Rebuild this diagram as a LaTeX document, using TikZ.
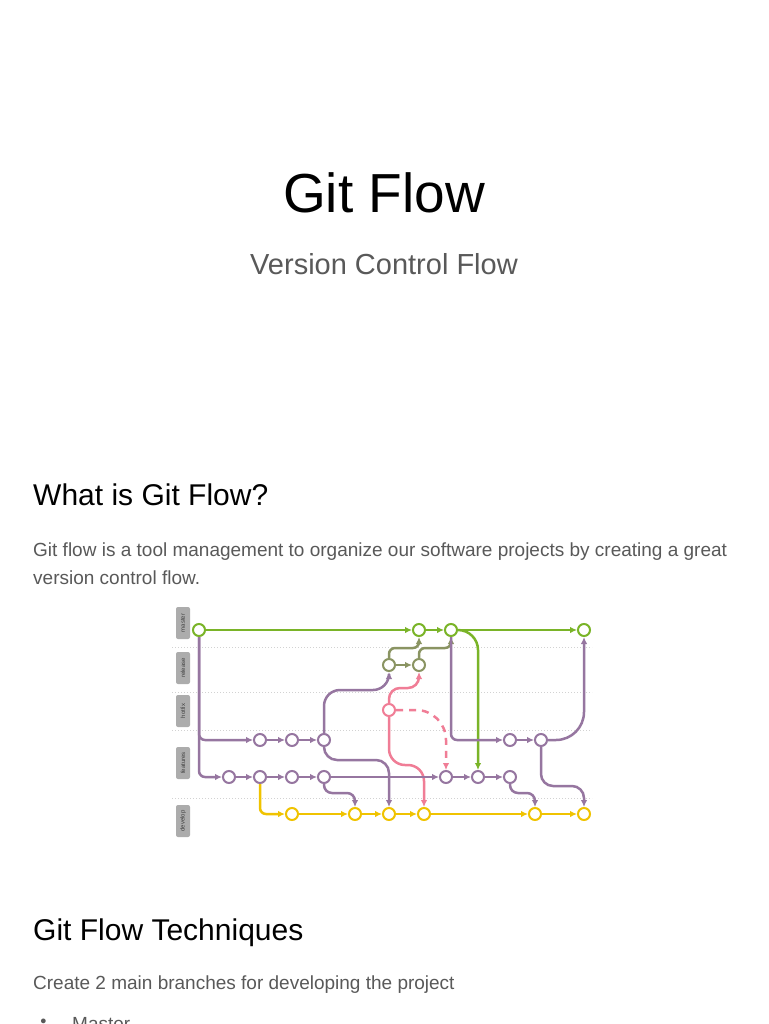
\documentclass[tikz,border=0pt]{standalone}
\usepackage{fontspec}
\setmainfont{Liberation Sans}
\usetikzlibrary{arrows.meta}
\definecolor{masterc}{RGB}{122,180,40}
\definecolor{releasec}{RGB}{138,148,98}
\definecolor{featurec}{RGB}{150,118,160}
\definecolor{hotfixc}{RGB}{240,125,150}
\definecolor{developc}{RGB}{240,195,0}
\definecolor{textgray}{RGB}{89,89,89}

\begin{document}
\begin{tikzpicture}[x=1pt, y=-1pt, >={Latex[length=7pt,width=6.5pt]}]
\tikzstyle{commit}=[draw, circle, fill=white, line width=2pt, inner sep=0pt, minimum size=12pt]
\tikzstyle{branch}=[fill=gray!65, rounded corners=2pt, rotate=90, minimum width=32pt, minimum height=14pt, inner sep=0pt, font=\fontsize{6}{6}\selectfont, text=black!75]
\tikzstyle{lane}=[gray!35, dotted, line width=1pt]
\tikzstyle{flow}=[line width=2.5pt, ->]
\tikzstyle{body}=[anchor=base west, inner sep=0pt, text=textgray, font=\fontsize{19}{23}\selectfont]
\tikzstyle{heading}=[anchor=base west, inner sep=0pt, font=\fontsize{30}{36}\selectfont]

\useasboundingbox (0,0) rectangle (768,1024);
\fill[white] (0,0) rectangle (768,1024);

\node[anchor=base, inner sep=0pt, font=\fontsize{55}{60}\selectfont] (title) at (384,213) {Git Flow};
\node[anchor=base, inner sep=0pt, text=textgray, font=\fontsize{29}{34}\selectfont] (subtitle) at (384,274) {Version Control Flow};
\node[heading] (whatis) at (33,505) {What is Git Flow?};
\node[body] (intro1) at (33,556) {Git flow is a tool management to organize our software projects by creating a great};
\node[body] (intro2) at (33,584) {version control flow.};
\node[heading] (techniques) at (33,940) {Git Flow Techniques};
\node[body] (create) at (33,989) {Create 2 main branches for developing the project};
\node[anchor=base west, inner sep=0pt, text=textgray, font=\fontsize{11}{13}\selectfont] (bullet) at (40,1024) {●};
\node[body] (mastertext) at (72,1030) {Master};

\foreach \y in {647,692,730,798}
  \draw[lane] (172,\y) -- (592,\y);

\path (183,623) node[branch] (lmaster) {master};
\path (183,668) node[branch] (lrelease) {release};
\path (183,711) node[branch] (lhotfix) {hotfix};
\path (183,763) node[branch] (lfeatures) {features};
\path (183,821) node[branch] (ldevelop) {develop};

\path (199,630) node[commit, draw=masterc] (m0) {};
\path (419,630) node[commit, draw=masterc] (m1) {};
\path (451,630) node[commit, draw=masterc] (m2) {};
\path (584,630) node[commit, draw=masterc] (m3) {};
\path (389,665) node[commit, draw=releasec] (r1) {};
\path (419,665) node[commit, draw=releasec] (r2) {};
\path (389,710) node[commit, draw=hotfixc] (h) {};
\path (260,740) node[commit, draw=featurec] (f1a) {};
\path (292,740) node[commit, draw=featurec] (f1b) {};
\path (324,740) node[commit, draw=featurec] (f1c) {};
\path (510,740) node[commit, draw=featurec] (f1d) {};
\path (541,740) node[commit, draw=featurec] (f1e) {};
\path (229,777) node[commit, draw=featurec] (f2a) {};
\path (260,777) node[commit, draw=featurec] (f2b) {};
\path (292,777) node[commit, draw=featurec] (f2c) {};
\path (324,777) node[commit, draw=featurec] (f2d) {};
\path (446,777) node[commit, draw=featurec] (f2e) {};
\path (478,777) node[commit, draw=featurec] (f2f) {};
\path (510,777) node[commit, draw=featurec] (f2g) {};
\path (292,814) node[commit, draw=developc] (d1) {};
\path (355,814) node[commit, draw=developc] (d2) {};
\path (389,814) node[commit, draw=developc] (d3) {};
\path (424,814) node[commit, draw=developc] (d4) {};
\path (535,814) node[commit, draw=developc] (d5) {};
\path (584,814) node[commit, draw=developc] (d6) {};

\foreach \a/\b in {m0/m1, m1/m2, m2/m3}
  \draw[flow, masterc] (\a) -- (\b);
\draw[flow, masterc, rounded corners=20pt] (m2) -| (f2f);

\draw[flow, releasec] (r1) -- (r2);
\draw[flow, releasec, rounded corners=6pt] (r1) |- (419,648) -- (m1);
\draw[flow, releasec, rounded corners=6pt] (r2) |- (451,648) -- (m2);

\draw[flow, hotfixc, rounded corners=11pt] (h) |- (419,688) -- (r2);
\draw[flow, hotfixc, rounded corners=16pt] (h) |- (424,765) -- (d4);
\draw[flow, hotfixc, dash pattern=on 7pt off 6pt, rounded corners=30pt] (h) -| (f2e);

\foreach \a/\b in {f1a/f1b, f1b/f1c, f1d/f1e, f2a/f2b, f2b/f2c, f2c/f2d, f2d/f2e, f2e/f2f, f2f/f2g}
  \draw[flow, featurec] (\a) -- (\b);
\draw[flow, featurec, rounded corners=6pt] (m0) |- (f1a);
\draw[flow, featurec, rounded corners=6pt] (m0) |- (f2a);
\draw[flow, featurec, rounded corners=6pt] (m2) |- (f1d);
\draw[flow, featurec, rounded corners=16pt] (f1c) |- (389,690) -- (r1);
\draw[flow, featurec, rounded corners=13pt] (f1c) |- (389,760) -- (d3);
\draw[flow, featurec, rounded corners=8pt] (f2d) |- (355,793) -- (d2);
\draw[flow, featurec, rounded corners=8pt] (f2g) |- (535,793) -- (d5);
\draw[flow, featurec, rounded corners=28pt] (f1e) -| (m3);
\draw[flow, featurec, rounded corners=12pt] (f1e) |- (584,786) -- (d6);

\draw[flow, developc, rounded corners=6pt] (f2b) |- (d1);
\foreach \a/\b in {d1/d2, d2/d3, d3/d4, d4/d5, d5/d6}
  \draw[flow, developc] (\a) -- (\b);
\end{tikzpicture}
\end{document}
